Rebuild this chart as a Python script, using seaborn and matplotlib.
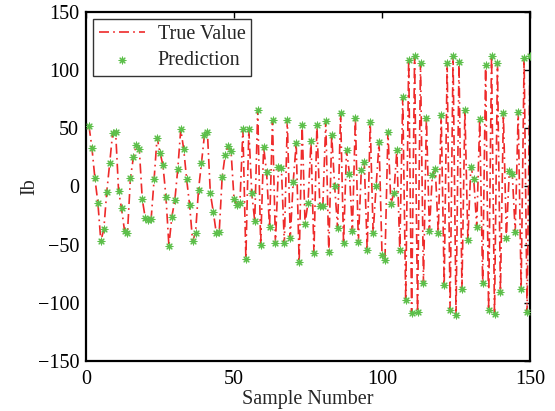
import numpy as np
import pandas as pd
import matplotlib
matplotlib.use("Agg")
import matplotlib.pyplot as plt
import seaborn as sns

true_values = [52, 33, 7, -14, -47, -37, -5, 20, 46, 47,
               -4, -19, -38, -40, 7, 25, 36, 32, -11, -27,
               -29, -28, 6, 42, 29, 18, -9, -51, -26, -12,
               15, 49, 32, 6, -16, -47, -40, -3, 20, 44,
               47, -6, -22, -40, -39, 8, 27, 35, 30, -11,
               -16, -14, 49, -62, 49, -6, -30, 66, -50, 34,
               12, -35, 57, -49, 17, 16, -49, 57, -44, 4,
               37, -65, 53, -32, -14, 39, -57, 53, -17, -17,
               56, -56, 44, 0, -36, 63, -49, 31, 11, -38,
               59, -48, 14, 21, -55, 55, -40, 0, 38, -59,
               -63, 47, -15, -6, 31, -55, 77, -98, 109, -109,
               112, -108, 106, -83, 59, -38, 10, 15, -40, 61,
               -85, 106, -106, 112, -111, 107, -88, 66, -46, 17,
               6, -35, 58, -83, 104, -106, 112, -110, 106, -91,
               63, -44, 13, 11, -39, 64, -88, 110, -108, 112]
predictions = list(true_values)
sample_numbers = list(range(1, len(true_values) + 1))

x_ticks = [0, 50, 100, 150]
y_ticks = [-150, -100, -50, 0, 50, 100, 150]

df = pd.DataFrame({"Sample": sample_numbers, "True": true_values, "Pred": predictions})

sns.set_style("white")
plt.rcParams["font.family"] = ["Liberation Serif", "DejaVu Serif"]

fig = plt.figure(figsize=(5.55, 4.11), dpi=100)
ax = fig.add_axes([0.155, 0.122, 0.800, 0.849])

sns.lineplot(data=df, x="Sample", y="True", ax=ax, color="#ee2a2a",
             linewidth=1.2, label="True Value", sort=False,
             linestyle=(0, (6, 2.5, 1, 2.5)))
sns.scatterplot(data=df, x="Sample", y="Pred", ax=ax, marker=(8, 2, 0),
                s=24, color="#5cbf4a", linewidth=0.8, edgecolor="#5cbf4a",
                label="Prediction", zorder=3)

ax.set_xlim(0, 150)
ax.set_ylim(-150, 150)
ax.set_xticks(x_ticks)
ax.set_yticks(y_ticks)
ax.set_xticklabels([str(t) for t in x_ticks])
ax.set_yticklabels([str(t).replace("-", "\u2212") for t in y_ticks])
ax.tick_params(direction="in", length=4, width=1, top=True, right=True,
               labelsize=14.5, colors="black")
ax.tick_params(axis="x", pad=6.5)
ax.tick_params(axis="y", pad=5)
for sp in ax.spines.values():
    sp.set_visible(True)
    sp.set_linewidth(1.6)
    sp.set_color("black")
ax.set_xlabel("Sample Number", fontsize=14.5, labelpad=1)
ax.set_ylabel("Ib", fontsize=14.5, labelpad=-1)

leg = ax.legend(loc="upper left", fontsize=14.5, frameon=True, fancybox=False,
                edgecolor="black", borderpad=0.3, labelspacing=0.35,
                handlelength=2.3, handletextpad=0.6, borderaxespad=0.35)
leg.get_frame().set_linewidth(1.0)

fig.savefig("out.png", dpi=100)
